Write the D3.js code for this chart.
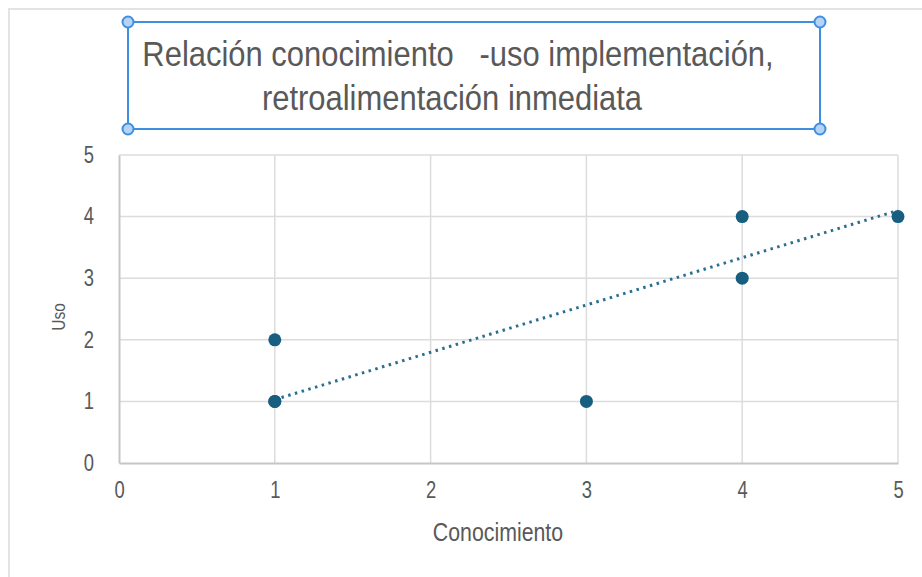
<!DOCTYPE html>
<html>
<head>
<meta charset="utf-8">
<script src="https://cdn.jsdelivr.net/npm/d3@7"></script>
<style>
  body { margin: 0; background: #fff; }
  text { font-family: "Liberation Sans", Arial, sans-serif; fill: #595959; }
</style>
</head>
<body>
<div id="chart"></div>
<script>
var width = 922, height = 577;

// datos
const conocimiento = [1, 1, 1, 3, 4, 4, 5];
const uso          = [1, 1, 2, 1, 4, 3, 4];
const trendX = [1, 5];
const trendY = [1.03, 4.10];
const xTicks = [0, 1, 2, 3, 4, 5];
const yTicks = [0, 1, 2, 3, 4, 5];
const titleLines = ["Relación conocimiento   -uso implementación,", "retroalimentación inmediata"];

const margin = {left: 119, right: 24, top: 155, bottom: 114};

const x = d3.scaleLinear().domain([0, 5]).range([margin.left, width - margin.right]);
const y = d3.scaleLinear().domain([0, 5]).range([height - margin.bottom, margin.top]);

const svg = d3.select('#chart').append("svg")
    .attr("width", width)
    .attr("height", height);

// comprime el texto en horizontal (tipo Arial Narrow)
function condense(sel, k) {
  k = k || 0.82;
  sel.each(function() {
    const t = d3.select(this);
    const xv = +t.attr("x") || 0;
    t.attr("x", xv / k).attr("transform", "scale(" + k + ",1)");
  });
}

// borde exterior
svg.append("path")
    .attr("d", "M9," + height + "V9H" + width)
    .attr("fill", "none")
    .attr("stroke", "#e3e3e3")
    .attr("stroke-width", 2);

// cuadricula
const grid = svg.append("g");
grid.selectAll("line.h")
    .data(yTicks.slice(1))
    .join("line")
    .attr("class", "h")
    .attr("x1", x(0)).attr("x2", x(5))
    .attr("y1", d => y(d)).attr("y2", d => y(d))
    .attr("stroke", "#dcdcdc").attr("stroke-width", 1.5);
grid.selectAll("line.v")
    .data(xTicks.slice(1))
    .join("line")
    .attr("class", "v")
    .attr("y1", y(0)).attr("y2", y(5))
    .attr("x1", d => x(d)).attr("x2", d => x(d))
    .attr("stroke", "#dcdcdc").attr("stroke-width", 1.5);

// ejes
const xAxis = svg.append("g")
    .attr("transform", "translate(0," + y(0) + ")")
    .call(d3.axisBottom(x).tickValues(xTicks).tickFormat(d3.format("d")).tickSize(0).tickPadding(19));
const yAxis = svg.append("g")
    .attr("transform", "translate(" + x(0) + ",0)")
    .call(d3.axisLeft(y).tickValues(yTicks).tickFormat(d3.format("d")).tickSize(0).tickPadding(25));
[xAxis, yAxis].forEach(function(a) {
  a.select(".domain").attr("stroke", "#c6c6c6").attr("stroke-width", 2);
  a.selectAll("text").style("font-size", "23px").attr("fill", "#595959").call(condense, 0.8);
});
xAxis.selectAll("text").attr("dy", "0.71em");

// linea de tendencia
svg.append("line")
    .attr("x1", x(trendX[0])).attr("y1", y(trendY[0]))
    .attr("x2", x(trendX[1])).attr("y2", y(trendY[1]))
    .attr("stroke", "#2a6f92")
    .attr("stroke-width", 3)
    .attr("stroke-dasharray", "2.5,4.5");

// puntos
svg.selectAll("circle.pt")
    .data(conocimiento.map((c, i) => ({c: c, u: uso[i]})))
    .join("circle")
    .attr("class", "pt")
    .attr("cx", d => x(d.c))
    .attr("cy", d => y(d.u))
    .attr("r", 6.5)
    .attr("fill", "#175e80");

// titulos de ejes
svg.append("text")
    .attr("x", 498).attr("y", 541)
    .attr("text-anchor", "middle")
    .style("font-size", "26px")
    .text("Conocimiento")
    .call(condense, 0.82);
svg.append("g")
    .attr("transform", "translate(65,317) rotate(-90)")
  .append("text")
    .attr("text-anchor", "middle")
    .style("font-size", "19px")
    .text("Uso")
    .call(condense, 0.82);

// caja del titulo
const box = {x0: 128, y0: 22, x1: 820, y1: 129};
svg.append("rect")
    .attr("x", box.x0).attr("y", box.y0)
    .attr("width", box.x1 - box.x0).attr("height", box.y1 - box.y0)
    .attr("fill", "none")
    .attr("stroke", "#3f8fe0")
    .attr("stroke-width", 2);
svg.selectAll("text.title")
    .data(titleLines)
    .join("text")
    .attr("class", "title")
    .attr("x", (d, i) => i === 0 ? 458 : 452)
    .attr("y", (d, i) => 66 + i * 44)
    .attr("text-anchor", "middle")
    .style("font-size", "36px")
    .style("white-space", "pre")
    .text(d => d)
    .call(condense, 0.86);
svg.selectAll("circle.handle")
    .data([[box.x0, box.y0], [box.x1, box.y0], [box.x0, box.y1], [box.x1, box.y1]])
    .join("circle")
    .attr("class", "handle")
    .attr("cx", d => d[0]).attr("cy", d => d[1])
    .attr("r", 5.5)
    .attr("fill", "#b5d3f5")
    .attr("stroke", "#3f8fe0")
    .attr("stroke-width", 2);
</script>
</body>
</html>
